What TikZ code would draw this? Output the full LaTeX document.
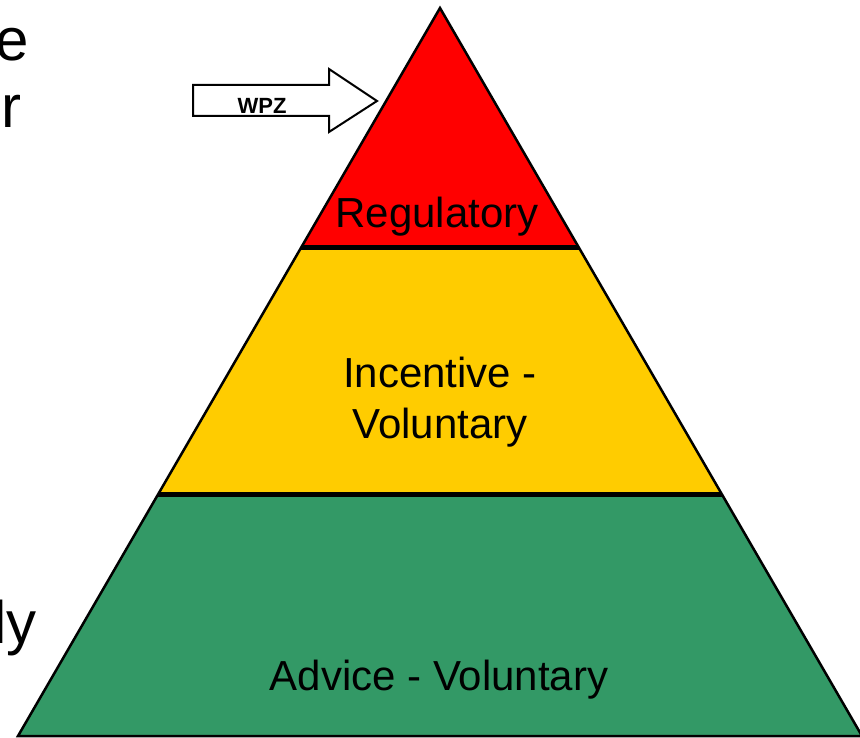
\documentclass[tikz,border=0pt]{standalone}
\usepackage{fontspec}
\setmainfont{Liberation Sans}
\definecolor{pyrred}{HTML}{FF0000}
\definecolor{pyryellow}{HTML}{FFCC00}
\definecolor{pyrgreen}{HTML}{339966}
\begin{document}
\begin{tikzpicture}[x=1pt,y=-1pt,
  tier/.style={draw=black,line width=2.5pt,line join=miter},
  sep/.style={draw=black,line width=5pt},
  label/.style={font=\fontsize{42}{51}\selectfont,text=black,inner sep=0pt,align=center},
  edgetext/.style={font=\fontsize{60}{67}\selectfont,text=black,inner sep=0pt,anchor=base east},
  blockarrow/.style={draw=black,line width=2pt,fill=white,line join=miter}]
\useasboundingbox (0,0) rectangle (860,738);
% pyramid tiers
\coordinate (apex) at (440,8);
\coordinate (l1) at (300.9,248);
\coordinate (r1) at (579.1,248);
\coordinate (l2) at (158.3,494);
\coordinate (r2) at (721.7,494);
\coordinate (l3) at (18,736);
\coordinate (r3) at (862,736);
\fill[pyrred] (apex) -- (r1) -- (l1) -- cycle;
\fill[pyryellow] (l1) -- (r1) -- (r2) -- (l2) -- cycle;
\fill[pyrgreen] (l2) -- (r2) -- (r3) -- (l3) -- cycle;
\draw[tier] (apex) -- (r3) -- (l3) -- cycle;
\draw[sep] (l1) -- (r1);
\draw[sep] (l2) -- (r2);
% labels
\node[label,anchor=base] (reg) at (437,228) {Regulatory};
\node[label] (inc) at (440,402) {Incentive -\\Voluntary};
\node[label,anchor=base] (adv) at (439,690) {Advice - Voluntary};
% WPZ block arrow
\draw[blockarrow] (193,85) -- (329,85) -- (329,69) -- (377,101) -- (329,132) -- (329,116) -- (193,116) -- cycle;
\node[font=\fontsize{22}{26}\selectfont\bfseries,inner sep=0pt] (wpz) at (262,105.5) {WPZ};
% cut-off text at left edge
\node[edgetext] (t1) at (29,61) {e};
\node[edgetext] (t2) at (22,128) {r};
\node[edgetext] (t3) at (37,643) {ly};
\end{tikzpicture}
\end{document}
